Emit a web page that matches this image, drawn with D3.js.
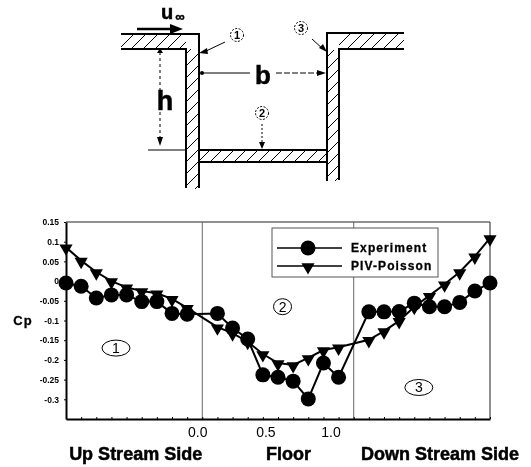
<!DOCTYPE html>
<html>
<head>
<meta charset="utf-8">
<style>
  body { margin: 0; background: #fff; }
  svg { display: block; font-family: "Liberation Sans", Arial, sans-serif; }
  .axis path, .axis line { stroke: #000; }
</style>
</head>
<body>
<div class="chart"></div>
<script src="https://d3js.org/d3.v7.min.js"></script>
<script>
  // measuring stations, numbered along the wall; 9 and 19 are the corners, no sample there
  const experimentIdx = [0,1,2,3,4,5,6,7,8,10,11,12,13,14,15,16,17,18,20,21,22,23,24,25,26,27,28]
  const experiment = [-0.005,-0.013,-0.043,-0.035,-0.035,-0.052,-0.052,-0.082,-0.084,
    -0.082,-0.119,-0.147,-0.238,-0.244,-0.254,-0.299,-0.208,-0.244,
    -0.078,-0.078,-0.077,-0.056,-0.065,-0.065,-0.054,-0.025,-0.005]
  const pivPoisson = [0.086,0.052,0.023,0,-0.016,-0.025,-0.031,-0.045,-0.068,
    -0.117,-0.132,-0.154,-0.185,-0.208,-0.213,-0.195,-0.175,-0.168,
    -0.149,-0.127,-0.101,-0.065,-0.037,-0.008,0.023,0.063,0.109]
  const yTicks = [0.15,0.1,0.05,0,-0.05,-0.1,-0.15,-0.2,-0.25,-0.3]
  const cornerIdx = [9,19]
  const floorTickIdx = [8.7,13.2,17.5]
  const floorTickLabels = ['0.0','0.5','1.0']
  const sideNames = ['Up Stream Side','Floor','Down Stream Side']
  const sideIdx = [4.6,14.7,24.7]
  const regionNames = ['1','2','3']
  const regionIdx = [3.3,14.3,23.3]
  const regionCp = [-0.17,-0.065,-0.27]
  const seriesNames = ['Experiment','PIV-Poisson']

  const width = 531, height = 467

  const svg = d3.select('.chart').append('svg')
                .attr('width', width)
                .attr('height', height)

  // 掃描圖的模糊感
  const defs = svg.append('defs')
  defs.append('filter').attr('id', 'scan')
      .append('feGaussianBlur').attr('stdDeviation', 0.45)
  defs.append('pattern').attr('id', 'hatch')
      .attr('patternUnits', 'userSpaceOnUse')
      .attr('width', 12).attr('height', 12)
      .append('path').attr('d', 'M-1,13L13,-1').attr('stroke', '#000').attr('stroke-width', 1)

  const root = svg.append('g').attr('filter', 'url(#scan)')

  // ---------- 上方的示意圖 ----------
  const sketch = root.append('g')

  const hatched = [[121,34,65,15],[186,49,13,140],[199,150,128,12],[327,50,12,131],[339,33,65,16]]
  sketch.selectAll('.hatch').data(hatched).join('rect')
    .attr('class', 'hatch')
    .attr('x', d => d[0]).attr('y', d => d[1])
    .attr('width', d => d[2]).attr('height', d => d[3])
    .attr('fill', 'url(#hatch)')

  const walls = [
    'M121,34H199V188', 'M121,49H186V188',
    'M199,150H327', 'M199,162H327',
    'M404,33H327V181', 'M404,49H339V180'
  ]
  sketch.selectAll('.wall').data(walls).join('path')
    .attr('class', 'wall')
    .attr('d', d => d).attr('fill', 'none')
    .attr('stroke', '#000').attr('stroke-width', 2)

  // 箭頭與尺寸線
  const dims = [
    {d:'M137,29H172', dash:null, w:2.5},
    {d:'M160,52V143', dash:'3,3', w:1},
    {d:'M148,150H186', dash:null, w:1},
    {d:'M203,73H250', dash:null, w:1},
    {d:'M276,73H322', dash:'6,2', w:1},
    {d:'M225,42L204,52', dash:null, w:1},
    {d:'M312,39L324,50', dash:null, w:1},
    {d:'M262,124V146', dash:'2,2', w:1}
  ]
  sketch.selectAll('.dim').data(dims).join('path')
    .attr('class', 'dim')
    .attr('d', d => d.d).attr('fill', 'none')
    .attr('stroke', '#000').attr('stroke-width', d => d.w)
    .attr('stroke-dasharray', d => d.dash)

  const heads = ['M170,24L183,29L170,34Z','M157,53L160,48L163,53Z','M157,137L160,146L163,137Z',
    'M202,73m-2,0a2,2 0 1,0 4,0a2,2 0 1,0 -4,0Z','M317,70L326,73L317,76Z',
    'M207,48L199,53L208,54Z','M319,48L327,52L323,44Z','M259,142L262,149L265,142Z']
  sketch.selectAll('.head').data(heads).join('path')
    .attr('class', 'head').attr('d', d => d).attr('fill', '#000')

  const sketchText = [
    {t:'u', x:167, y:19, s:20},
    {t:'∞', x:180, y:21, s:13},
    {t:'b', x:263, y:84, s:26},
    {t:'h', x:165, y:110, s:27}
  ]
  sketch.selectAll('.lbl').data(sketchText).join('text')
    .attr('class', 'lbl')
    .attr('x', d => d.x).attr('y', d => d.y)
    .attr('text-anchor', 'middle')
    .attr('font-size', d => d.s).attr('font-weight', 'bold')
    .attr('stroke', '#000').attr('stroke-width', 0.5)
    .text(d => d.t)

  const sketchMarks = [{t:'1', x:237, y:35},{t:'2', x:262, y:113},{t:'3', x:301, y:28}]
  sketch.selectAll('.mk').data(sketchMarks).join('circle')
    .attr('class', 'mk')
    .attr('cx', d => d.x).attr('cy', d => d.y).attr('r', 6.5)
    .attr('fill', 'none').attr('stroke', '#000').attr('stroke-dasharray', '2,1.5')
  sketch.selectAll('.mkt').data(sketchMarks).join('text')
    .attr('class', 'mkt')
    .attr('x', d => d.x).attr('y', d => d.y + 4)
    .attr('text-anchor', 'middle').attr('font-size', 11).attr('font-weight', 'bold')
    .text(d => d.t)

  // ---------- 折線圖 ----------
  const xScale = d3.scaleLinear().domain([0, 28]).range([66, 490])
  const yScale = d3.scaleLinear().domain([-0.35, 0.15]).range([419, 222])

  // 外框
  root.append('path')
      .attr('d', `M${xScale(0)},${yScale(0.15)}H${xScale(28)}V${yScale(-0.35)}`)
      .attr('fill', 'none').attr('stroke', '#222').attr('stroke-width', 1)

  root.selectAll('.corner').data(cornerIdx).join('line')
      .attr('class', 'corner')
      .attr('x1', d => xScale(d)).attr('x2', d => xScale(d))
      .attr('y1', yScale(0.15)).attr('y2', yScale(-0.35))
      .attr('stroke', '#666').attr('stroke-width', 1)

  const xAxis = d3.axisBottom(xScale)
                  .tickValues(d3.range(0, 29))
                  .tickSize(-2)
                  .tickSizeOuter(0)
                  .tickFormat('')
  const xAxisGroup = root.append('g').attr('class', 'axis')
      .attr('transform', `translate(0,${yScale(-0.35)})`)
      .call(xAxis)
  xAxisGroup.select('.domain').attr('stroke-width', 1.8)

  const yAxis = d3.axisLeft(yScale)
                  .tickValues(yTicks)
                  .tickSize(2)
                  .tickPadding(5)
                  .tickSizeOuter(0)
                  .tickFormat(d => d)
  const yAxisGroup = root.append('g').attr('class', 'axis')
      .attr('transform', `translate(${xScale(0)},0)`)
      .call(yAxis)
  yAxisGroup.select('.domain').attr('stroke-width', 2)
  yAxisGroup.selectAll('text')
      .attr('font-family', '"Liberation Sans", Arial, sans-serif')
      .attr('font-size', 8.5).attr('font-weight', 'bold')

  root.append('text').attr('x', 23).attr('y', 325)
      .attr('text-anchor', 'middle')
      .attr('font-size', 13).attr('font-weight', 'bold').attr('letter-spacing', 1)
      .attr('stroke', '#000').attr('stroke-width', 0.3)
      .text('Cp')

  // 圓圈編號
  const regions = root.selectAll('.region')
      .data(regionNames)
      .join('g')
      .attr('class', 'region')
      .attr('transform', (d, i) => `translate(${xScale(regionIdx[i])},${yScale(regionCp[i])})`)
  regions.append('ellipse')
      .attr('rx', (d, i) => i === 1 ? 9 : 14).attr('ry', 8)
      .attr('fill', 'none').attr('stroke', '#000')
  regions.append('text')
      .attr('y', 5).attr('text-anchor', 'middle').attr('font-size', 14)
      .text(d => d)

  // 開始建立折線圖
  const line = d3.line()
                 .x((d, i) => xScale(experimentIdx[i]))
                 .y(d => yScale(d))

  root.append('path').datum(pivPoisson)
      .attr('d', line).attr('fill', 'none')
      .attr('stroke', '#000').attr('stroke-width', 2)
  root.append('path').datum(experiment)
      .attr('d', line).attr('fill', 'none')
      .attr('stroke', '#000').attr('stroke-width', 2)

  const triangle = d3.symbol().type(d3.symbolTriangle).size(75)

  root.selectAll('.tri').data(pivPoisson).join('path')
      .attr('class', 'tri')
      .attr('d', triangle)
      .attr('transform', (d, i) => `translate(${xScale(experimentIdx[i])},${yScale(d) + 1}) rotate(180)`)
      .attr('fill', '#000')
  root.selectAll('.dot').data(experiment).join('circle')
      .attr('class', 'dot')
      .attr('cx', (d, i) => xScale(experimentIdx[i]))
      .attr('cy', d => yScale(d))
      .attr('r', 7.5)
      .attr('fill', '#000')

  // 圖例
  const legend = root.append('g').attr('transform', 'translate(272,228)')
  legend.append('rect')
      .attr('width', 166).attr('height', 49)
      .attr('fill', '#fff').attr('stroke', '#555').attr('stroke-width', 1)
  const rows = legend.selectAll('.row').data(seriesNames).join('g')
      .attr('class', 'row')
      .attr('transform', (d, i) => `translate(0,${20 + i * 18})`)
  rows.append('line').attr('x1', 5).attr('x2', 70)
      .attr('stroke', '#000').attr('stroke-width', 1.5)
  rows.filter((d, i) => i === 0).append('circle')
      .attr('cx', 36).attr('r', 7.5).attr('fill', '#000')
  rows.filter((d, i) => i === 1).append('path')
      .attr('d', triangle)
      .attr('transform', 'translate(36,1) rotate(180)')
      .attr('fill', '#000')
  rows.append('text')
      .attr('x', 79).attr('y', 4)
      .attr('font-size', 12).attr('font-weight', 'bold').attr('letter-spacing', 1.1)
      .attr('stroke', '#000').attr('stroke-width', 0.3)
      .text(d => d)

  // 下方標籤
  root.selectAll('.floorTick').data(floorTickLabels).join('text')
      .attr('class', 'floorTick')
      .attr('x', (d, i) => xScale(floorTickIdx[i]))
      .attr('y', 437)
      .attr('text-anchor', 'middle').attr('font-size', 14)
      .text(d => d)
  root.selectAll('.side').data(sideNames).join('text')
      .attr('class', 'side')
      .attr('x', (d, i) => xScale(sideIdx[i]))
      .attr('y', 460)
      .attr('text-anchor', 'middle').attr('font-size', 18).attr('font-weight', 'bold')
      .attr('stroke', '#000').attr('stroke-width', 0.5)
      .text(d => d)
</script>
</body>
</html>
